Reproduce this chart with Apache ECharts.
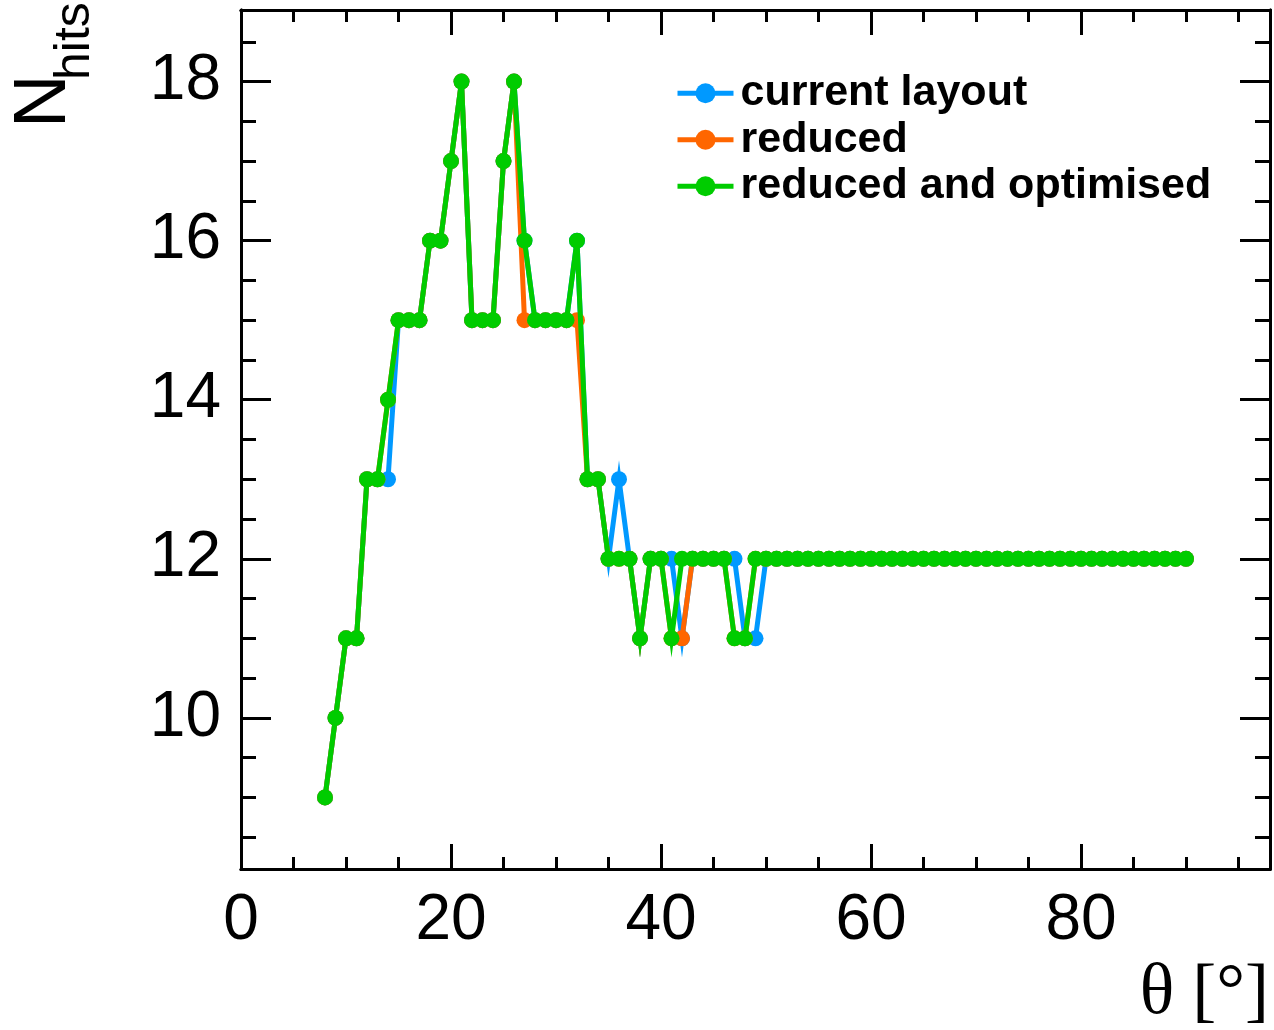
<!DOCTYPE html>
<html>
<head>
<meta charset="utf-8">
<script src="https://cdn.jsdelivr.net/npm/echarts@6/dist/echarts.min.js"></script>
<style>
html,body{margin:0;padding:0;background:#fff;}
#chart{width:1274px;height:1030px;}
</style>
</head>
<body>
<div id="chart"></div>
<script>
// ---- data ----
var theta = [8,9,10,11,12,13,14,15,16,17,18,19,20,21,22,23,24,25,26,27,28,29,30,31,32,33,34,35,36,37,38,39,40,41,42,43,44,45,46,47,48,49,
  50,51,52,53,54,55,56,57,58,59,60,61,62,63,64,65,66,67,68,69,70,71,72,73,74,75,76,77,78,79,80,81,82,83,84,85,86,87,88,89,90];
var currentLayout = [9,10,11,11,13,13,13,15,15,15,16,16,17,18,15,15,15,17,18,16,15,15,15,15,16,13,13,12,13,12,11,12,12,12,11,12,12,12,12,12,11,11,
  12,12,12,12,12,12,12,12,12,12,12,12,12,12,12,12,12,12,12,12,12,12,12,12,12,12,12,12,12,12,12,12,12,12,12,12,12,12,12,12,12];
var reduced = [9,10,11,11,13,13,14,15,15,15,16,16,17,18,15,15,15,17,18,15,15,15,15,15,15,13,13,12,12,12,11,12,12,11,11,12,12,12,12,11,11,12,
  12,12,12,12,12,12,12,12,12,12,12,12,12,12,12,12,12,12,12,12,12,12,12,12,12,12,12,12,12,12,12,12,12,12,12,12,12,12,12,12,12];
var reducedOptimised = [9,10,11,11,13,13,14,15,15,15,16,16,17,18,15,15,15,17,18,16,15,15,15,15,16,13,13,12,12,12,11,12,12,11,12,12,12,12,12,11,11,12,
  12,12,12,12,12,12,12,12,12,12,12,12,12,12,12,12,12,12,12,12,12,12,12,12,12,12,12,12,12,12,12,12,12,12,12,12,12,12,12,12,12];
var seriesNames = ['current layout', 'reduced', 'reduced and optimised'];
var xMajorTicks = [0,20,40,60,80];
var xMinorTicks = [0,5,10,15,20,25,30,35,40,45,50,55,60,65,70,75,80,85,90,95];
var yMajorTicks = [10,12,14,16,18];
var yMinorTicks = [8.5,9,9.5,10,10.5,11,11.5,12,12.5,13,13.5,14,14.5,15,15.5,16,16.5,17,17.5,18,18.5];
var xRange = [0, 98];
var yRange = [8.1, 18.9];

// ---- style ----
var colors = ['#0099FF', '#FF6600', '#00CC00'];
var FONT = '"Liberation Sans", Arial, Helvetica, sans-serif';

function pairs(xs, ys){ var out=[]; for (var i=0;i<xs.length;i++) out.push([xs[i], ys[i]]); return out; }

function xAx(pos, ticks, len, labels){
  return {
    type:'value', gridIndex:0, position:pos, min:xRange[0], max:xRange[1],
    axisLine:{show:true, onZero:false, lineStyle:{color:'#000', width:3}},
    axisTick:{show:true, inside:true, length:len, customValues:ticks, lineStyle:{color:'#000', width:3}},
    axisLabel:{show:!!labels, customValues:labels||[], margin:20, fontSize:64, color:'#000', fontFamily:FONT},
    splitLine:{show:false}
  };
}
function yAx(pos, ticks, len, labels){
  return {
    type:'value', gridIndex:0, position:pos, min:yRange[0], max:yRange[1],
    axisLine:{show:true, onZero:false, lineStyle:{color:'#000', width:3}},
    axisTick:{show:true, inside:true, length:len, customValues:ticks, lineStyle:{color:'#000', width:3}},
    axisLabel:{show:!!labels, customValues:labels||[], margin:20, fontSize:64, color:'#000', fontFamily:FONT},
    splitLine:{show:false}
  };
}

var seriesData = [currentLayout, reduced, reducedOptimised];
var series = seriesData.map(function(vals, i){
  return {
    type:'line', name:seriesNames[i], data:pairs(theta, vals),
    xAxisIndex:0, yAxisIndex:0, z:2+i,
    symbol:'circle', symbolSize:16, showSymbol:true, showAllSymbol:true,
    lineStyle:{color:colors[i], width:5, join:'miter', miterLimit:10},
    itemStyle:{color:colors[i]},
    emphasis:{disabled:true},
    animation:false
  };
});

var chart = echarts.init(document.getElementById('chart'), null, {renderer:'canvas'});
chart.setOption({
  animation:false,
  backgroundColor:'#fff',
  grid:{left:241, right:4, top:10, bottom:161, containLabel:false, outerBoundsMode:'none'},
  xAxis:[
    xAx('bottom', xMajorTicks, 25, xMajorTicks),
    xAx('bottom', xMinorTicks, 12, null),
    xAx('top', xMajorTicks, 25, null),
    xAx('top', xMinorTicks, 12, null)
  ],
  yAxis:[
    yAx('left', yMajorTicks, 30, yMajorTicks),
    yAx('left', yMinorTicks, 15, null),
    yAx('right', yMajorTicks, 30, null),
    yAx('right', yMinorTicks, 15, null)
  ],
  legend:{
    data:seriesNames, orient:'vertical', left:675, top:70, padding:0,
    itemWidth:56, itemHeight:25, itemGap:0, selectedMode:false,
    lineStyle:{width:5},
    textStyle:{fontSize:43, fontWeight:'bold', color:'#000', fontFamily:FONT, lineHeight:46.5, padding:[0,0,0,2]}
  },
  series:series,
  graphic:[
    {type:'text', x:45, y:128, rotation:Math.PI/2, silent:true,
     style:{text:'N', font:'74px ' + FONT, fill:'#000', align:'left', verticalAlign:'middle'}},
    {type:'text', x:75, y:80, rotation:Math.PI/2, silent:true,
     style:{text:'hits', font:'50px ' + FONT, fill:'#000', align:'left', verticalAlign:'middle'}},
    {type:'text', x:1269, y:994, silent:true,
     style:{text:'θ [°]', font:'72px "Liberation Serif", "Times New Roman", serif', fill:'#000', align:'right', verticalAlign:'middle'}}
  ]
});
</script>
</body>
</html>
